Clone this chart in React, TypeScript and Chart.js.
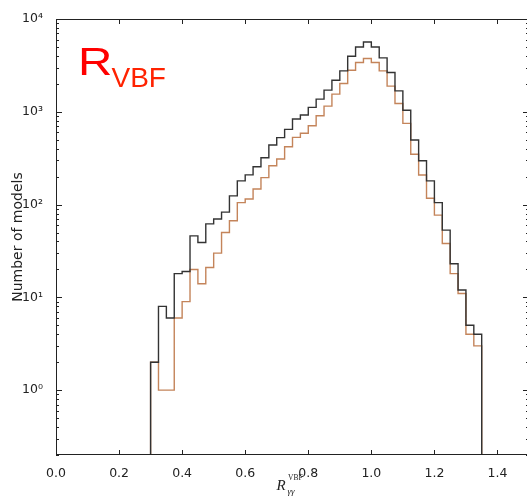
import React, { useEffect, useRef } from "react";
import { Chart, registerables } from "chart.js";

Chart.register(...registerables);

// Histogram bins: R_gammagamma^VBF from 0.30 to 1.35 in steps of 0.025
const BIN_START = 0.3;
const BIN_WIDTH = 0.025;

// All models (dark line)
const allModels = [
  2, 8, 6, 18, 19, 46, 39, 62, 70, 83, 124, 180, 209, 256, 320, 438, 526, 646,
  835, 922, 1115, 1370, 1710, 2190, 2760, 3970, 5000, 5660, 5000, 3810, 2650,
  1680, 1040, 497, 297, 180, 105, 53, 23, 12, 5, 4,
];

// Subset (orange line)
const subsetModels = [
  2, 1, 1, 6, 9, 20, 14, 21, 30, 50, 67, 105, 115, 147, 195, 262, 310, 420,
  530, 586, 707, 905, 1150, 1550, 2020, 2800, 3400, 3750, 3400, 2760, 1890,
  1230, 750, 348, 208, 117, 77, 38, 18, 11, 4, 3,
];

const X_TICKS = [0.0, 0.2, 0.4, 0.6, 0.8, 1.0, 1.2, 1.4];
const Y_DECADE_BASES = [0.1, 1, 10, 100, 1000, 10000];
const X_MIN = 0;
const X_MAX = 1.5;
const Y_MIN = 0.2;
const Y_MAX = 10000;
const Y_TITLE = "Number of models";
const SUP: Record<string, string> = { "0": "⁰", "1": "¹", "2": "²", "3": "³", "4": "⁴" };

function stepPoints(counts: number[]) {
  // each point: (bin left edge, count); 'before' stepping draws the horizontal at the previous count
  const pts: { x: number; y: number }[] = [{ x: BIN_START, y: Y_MIN }];
  counts.forEach((c, i) => {
    pts.push({ x: BIN_START + i * BIN_WIDTH, y: c });
  });
  const end = BIN_START + counts.length * BIN_WIDTH;
  pts.push({ x: end, y: Y_MIN });
  return pts;
}

function yTickValues() {
  const vals: number[] = [];
  Y_DECADE_BASES.forEach((d) => {
    for (let m = 1; m <= 9; m++) {
      const v = +(m * d).toPrecision(6);
      if (v >= Y_MIN - 1e-9 && v <= Y_MAX + 1e-9) vals.push(v);
    }
  });
  return Array.from(new Set(vals)).sort((a, b) => a - b);
}

function isDecade(v: number) {
  const l = Math.log10(v);
  return Math.abs(l - Math.round(l)) < 1e-9;
}

const framePlugin = {
  id: "frame",
  afterDatasetsDraw(chart: any) {
    const { ctx, chartArea: a, scales } = chart;
    const x = scales.x;
    const y = scales.y;
    ctx.save();
    ctx.strokeStyle = "#222";
    ctx.lineWidth = 1;
    const line = (x1: number, y1: number, x2: number, y2: number) => {
      ctx.beginPath();
      ctx.moveTo(x1, y1);
      ctx.lineTo(x2, y2);
      ctx.stroke();
    };
    ctx.strokeRect(a.left + 0.5, a.top + 0.5, a.right - a.left - 1, a.bottom - a.top - 1);
    x.ticks.forEach((t: any) => {
      const px = Math.round(x.getPixelForValue(t.value)) + 0.5;
      line(px, a.bottom, px, a.bottom - 5);
      line(px, a.top, px, a.top + 5);
    });
    y.ticks.forEach((t: any) => {
      const len = isDecade(t.value) ? 6 : 3;
      const py = Math.round(y.getPixelForValue(t.value)) + 0.5;
      line(a.left, py, a.left + len, py);
      line(a.right, py, a.right - len, py);
    });
    ctx.restore();
  },
  afterDraw(chart: any) {
    const { ctx, chartArea: a } = chart;
    ctx.save();
    // x-axis title: R^{VBF}_{γγ}
    const cx = (a.left + a.right) / 2;
    ctx.fillStyle = "#222";
    ctx.textBaseline = "alphabetic";
    ctx.textAlign = "left";
    ctx.font = 'italic 15px "Liberation Serif"';
    ctx.fillText("R", cx - 16, 490);
    ctx.font = '7.5px "Liberation Serif"';
    ctx.fillText("VBF", cx - 4.5, 479.5);
    ctx.font = 'italic 9px "Liberation Serif"';
    ctx.fillText("γγ", cx - 5, 494);
    // red annotation (wide "R")
    ctx.save();
    const sx = 1.22;
    ctx.scale(sx, 1);
    ctx.fillStyle = "#ff0000";
    ctx.font = '39px "Liberation Sans", Arial, sans-serif';
    ctx.fillText("R", (a.left + 22) / sx, a.top + 55.5);
    ctx.restore();
    ctx.fillStyle = "#ff2200";
    ctx.font = '28px "Liberation Sans", Arial, sans-serif';
    ctx.fillText("VBF", a.left + 55.5, a.top + 67.5);
    ctx.restore();
  },
};

export default function App() {
  const ref = useRef<HTMLCanvasElement | null>(null);

  useEffect(() => {
    if (!ref.current) return;
    const chart = new Chart(ref.current, {
      type: "line",
      data: {
        datasets: [
          {
            label: "All models",
            data: stepPoints(allModels),
            borderColor: "#333333",
            borderWidth: 1.4,
            pointRadius: 0,
            stepped: "before",
            fill: false,
          },
          {
            label: "Subset",
            data: stepPoints(subsetModels),
            borderColor: "#c4845a",
            borderWidth: 1.4,
            pointRadius: 0,
            stepped: "before",
            fill: false,
          },
        ],
      },
      options: {
        animation: false,
        responsive: false,
        devicePixelRatio: 1,
        layout: { padding: { top: 19, right: 0, bottom: 0, left: 0 } },
        plugins: { legend: { display: false }, tooltip: { enabled: false } },
        scales: {
          x: {
            type: "linear",
            min: X_MIN,
            max: X_MAX,
            grid: { display: false },
            border: { display: false },
            afterBuildTicks: (s: any) => {
              s.ticks = X_TICKS.map((v) => ({ value: v }));
            },
            afterFit: (s: any) => {
              s.height = 46;
            },
            ticks: {
              autoSkip: false,
              maxRotation: 0,
              padding: 3,
              color: "#222",
              font: { family: "DejaVu Sans", size: 12.5 },
              callback: (v: any) => Number(v).toFixed(1),
            },
          },
          y: {
            type: "logarithmic",
            min: Y_MIN,
            max: Y_MAX,
            grid: { display: false },
            border: { display: false },
            afterBuildTicks: (s: any) => {
              s.ticks = yTickValues().map((v) => ({ value: v, major: isDecade(v) }));
            },
            afterFit: (s: any) => {
              s.width = 56;
            },
            title: {
              display: true,
              text: Y_TITLE,
              color: "#222",
              font: { family: "DejaVu Sans", size: 14 },
              padding: { top: 10, bottom: 0 },
            },
            ticks: {
              autoSkip: false,
              padding: 5,
              color: "#222",
              font: { family: "DejaVu Sans", size: 12.5 },
              callback: (v: any) => {
                const n = Number(v);
                if (!isDecade(n)) return "";
                const e = Math.round(Math.log10(n));
                return "10" + String(e).split("").map((c) => SUP[c] || c).join("");
              },
            },
          },
        },
      },
      plugins: [framePlugin],
    } as any);
    return () => chart.destroy();
  }, []);

  return (
    <div style={{ position: "fixed", left: 0, top: 0, width: 527, height: 501, overflow: "hidden", background: "#fff" }}>
      <canvas ref={ref} width={529} height={501} style={{ display: "block" }} />
    </div>
  );
}
